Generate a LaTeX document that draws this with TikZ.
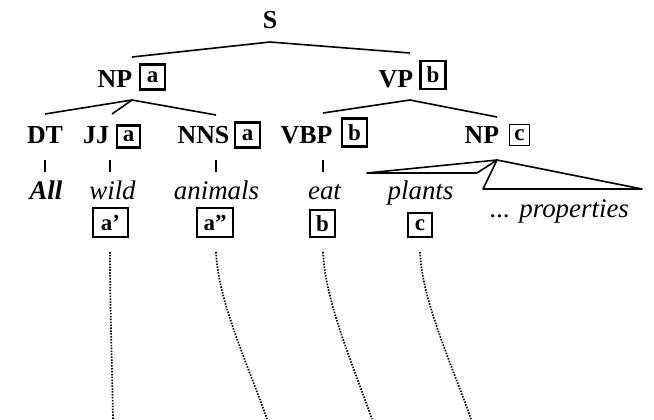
\documentclass[tikz,border=0pt]{standalone}
\usepackage{fontspec}
\setmainfont{Liberation Serif}
\begin{document}
\begin{tikzpicture}[x=1bp,y=-1bp,
  lab/.style={font=\fontsize{26}{26}\selectfont\bfseries, inner sep=0pt, anchor=base},
  word/.style={font=\fontsize{27}{27}\selectfont\itshape, inner sep=0pt, anchor=base},
  tag/.style={draw, line width=2.3bp, font=\fontsize{23}{23}\selectfont\bfseries, inner sep=0pt, minimum width=25bp, minimum height=25bp},
  tallertag/.style={tag, minimum height=28bp},
  widetag/.style={tag, minimum width=35bp, minimum height=29bp},
  thintag/.style={tag, line width=1.5bp, minimum width=20bp, minimum height=21bp},
  branch/.style={line width=1.6bp},
  tick/.style={line width=1.8bp},
  link/.style={line width=1.7bp, dash pattern=on 1.5bp off 1.4bp}]
\useasboundingbox (0,0) rectangle (654,419);
% labels
\node[lab] (S) at (270,28) {S};
\node[lab] (NP) at (115,87) {NP};
\node[tag] (NPt) at (152.5,77) {a};
\node[lab] (VP) at (396,87) {VP};
\node[tallertag] (VPt) at (433,75) {b};
\node[lab] (DT) at (45,143) {DT};
\node[lab] (JJ) at (96,143) {JJ};
\node[tag, minimum height=22bp, minimum width=23bp] (JJt) at (128.5,136.5) {a};
\node[lab] (NNS) at (203.5,143) {NNS};
\node[tag] (NNSt) at (247.5,135) {a};
\node[lab] (VBP) at (306.5,143) {VBP};
\node[tallertag] (VBPt) at (354.5,132.5) {b};
\node[lab] (NPc) at (482,143) {NP};
\node[thintag] (NPct) at (519.5,135) {c};
% words
\node[word, font=\fontsize{27}{27}\selectfont\bfseries\itshape] (All) at (46,199) {All};
\node[word] (wild) at (112.5,199) {wild};
\node[word] (animals) at (216.5,199) {animals};
\node[word] (eat) at (324.5,199) {eat};
\node[word] (plants) at (420.5,199) {plants};
\node[word, anchor=base west] (props) at (490,217) {... properties};
% boxes under words
\node[widetag] (ap) at (110.5,222.5) {a'};
\node[widetag, minimum width=36bp] (app) at (215,222.5) {a''};
\node[tallertag, minimum height=27bp] (b) at (322.5,223.5) {b};
\node[tag, minimum width=24bp, minimum height=24bp] (c) at (420,225) {c};
% branch points
\coordinate (s0) at (270,42);
\coordinate (s1) at (132,57);
\coordinate (s2) at (410,53);
\coordinate (n0) at (132,100);
\coordinate (n1) at (45,114);
\coordinate (n2) at (112,114);
\coordinate (n3) at (216,115);
\coordinate (v0) at (410,100);
\coordinate (v1) at (323,113);
\coordinate (v2) at (497,117);
\coordinate (c0) at (497,160);
\coordinate (c1) at (367,173);
\coordinate (c2) at (477,173);
\coordinate (c3) at (483,189);
\coordinate (c4) at (642,189);
\draw[branch] (s1) -- (s0) -- (s2);
\draw[branch] (n1) -- (n0) -- (n3);
\draw[branch] (n0) -- (n2);
\draw[branch] (v1) -- (v0) -- (v2);
\draw[branch, line join=round] (c1) -- (c0) -- (c2) -- cycle;
\draw[branch, line join=round] (c3) -- (c0) -- (c4) -- cycle;
% ticks
\foreach \x/\n in {45/t1,110/t2,216/t3,323/t4}{
  \coordinate (\n a) at (\x,160);
  \coordinate (\n b) at (\x,172);
  \draw[tick] (\n a) -- (\n b);
}
% dotted links
\coordinate (d1) at (110,252);
\coordinate (d2) at (216,252);
\coordinate (d3) at (323,252);
\coordinate (d4) at (420,252);
\coordinate (e1) at (113,419);
\coordinate (e2) at (267,419);
\coordinate (e3) at (372,419);
\coordinate (e4) at (471,419);
\draw[link] (d1) .. controls (110,310) and (112,360) .. (e1);
\draw[link] (d2) .. controls (218,300) and (246,360) .. (e2);
\draw[link] (d3) .. controls (325,300) and (351,360) .. (e3);
\draw[link] (d4) .. controls (422,300) and (450,360) .. (e4);
\end{tikzpicture}
\end{document}
